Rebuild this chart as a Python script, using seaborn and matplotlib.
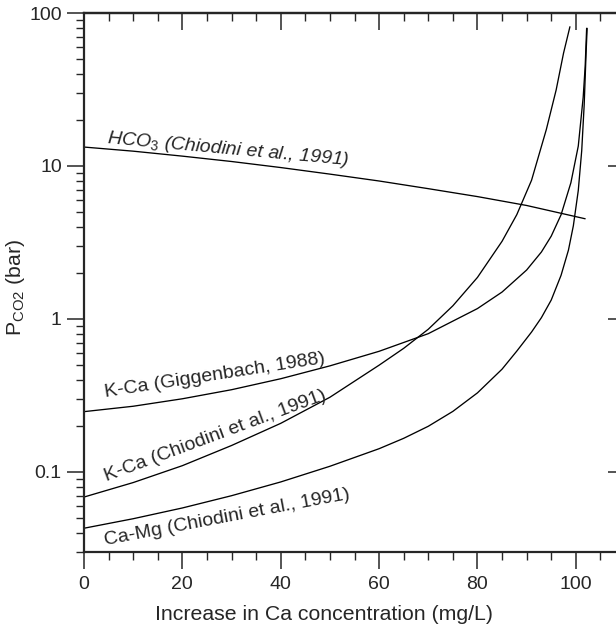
import pandas as pd
import matplotlib.pyplot as plt
import matplotlib.ticker as mticker
import seaborn as sns

# curves (x = increase in Ca, mg/L ; y = PCO2, bar)
hco3_x = [0, 10, 20, 30, 40, 50, 60, 70, 80, 90, 101.9]
hco3_y = [13.3, 12.5, 11.6, 10.7, 9.77, 8.85, 7.98, 7.11, 6.31, 5.52, 4.52]

kca_gigg_x = [0, 10, 20, 30, 40, 50, 60, 70, 80, 85, 90, 93, 95, 97, 99, 100.5, 101.5, 101.9, 102.2]
kca_gigg_y = [0.248, 0.269, 0.301, 0.345, 0.407, 0.494, 0.615, 0.802, 1.17, 1.50, 2.09,
              2.74, 3.48, 4.80, 7.78, 13.5, 28.2, 44.7, 79.4]

kca_chio_x = [0, 10, 20, 30, 40, 50, 60, 65, 70, 75, 80, 85, 88, 91, 94, 96, 97.5, 98.8]
kca_chio_y = [0.0686, 0.0853, 0.110, 0.149, 0.208, 0.308, 0.499, 0.643, 0.857, 1.22, 1.87,
              3.22, 4.81, 8.07, 17.3, 31.4, 54.6, 81.3]

camg_x = [0, 10, 20, 30, 40, 50, 60, 65, 70, 75, 80, 85, 88, 91, 93, 95, 97, 98.5, 99.5,
          100.5, 101.2, 101.7, 102.1, 102.3]
camg_y = [0.0429, 0.0495, 0.0582, 0.070, 0.0861, 0.109, 0.142, 0.166, 0.199, 0.249, 0.329,
          0.470, 0.617, 0.822, 1.02, 1.33, 1.93, 2.82, 4.07, 6.92, 12.6, 25.1, 56.2, 79.4]

curve_names = ['HCO3', 'K-Ca Giggenbach', 'K-Ca Chiodini', 'Ca-Mg']
curve_labels = ['HCO$_{\\mathit{3}}$ (Chiodini et al., 1991)',
                'K-Ca (Giggenbach, 1988)',
                'K-Ca (Chiodini et al., 1991)',
                'Ca-Mg (Chiodini et al., 1991)']
# label anchor (left baseline, data coords) and rotation
label_x = [4.5, 4.3, 4.6, 4.3]
label_y = [14.2, 0.307, 0.0869, 0.0333]
label_rot = [-5.2, 8.8, 20.4, 10.7]

yticks = [0.1, 1, 10, 100]
ytick_labels = ['0.1', '1', '10', '100']
xticks = [0, 20, 40, 60, 80, 100]

frames = []
for name, xs, ys in zip(curve_names,
                        [hco3_x, kca_gigg_x, kca_chio_x, camg_x],
                        [hco3_y, kca_gigg_y, kca_chio_y, camg_y]):
    frames.append(pd.DataFrame({'ca': xs, 'pco2': ys, 'curve': name}))
df = pd.concat(frames, ignore_index=True)

sns.set_style('ticks')
plt.rcParams['font.family'] = ['Liberation Sans', 'DejaVu Sans']
plt.rcParams['mathtext.fontset'] = 'custom'
plt.rcParams['mathtext.rm'] = 'Liberation Sans'
plt.rcParams['mathtext.it'] = 'Liberation Sans:italic'

fig = plt.figure(figsize=(6.16, 6.27), dpi=100)
ax = fig.add_axes([84 / 616, 1 - 552 / 627, 541 / 616, 539 / 627])

sns.lineplot(data=df, x='ca', y='pco2', units='curve', estimator=None,
             color='black', linewidth=0.95, sort=False, ax=ax)

ax.set_yscale('log')
ax.set_xlim(0, 110)
ax.set_ylim(0.03, 100)

ax.set_xticks(xticks)
ax.xaxis.set_minor_locator(mticker.MultipleLocator(5))
ax.set_yticks(yticks)
ax.set_yticklabels(ytick_labels)
ax.yaxis.set_minor_locator(mticker.LogLocator(base=10, subs=range(2, 10)))
ax.yaxis.set_minor_formatter(mticker.NullFormatter())

ax.tick_params(which='major', direction='out', length=12, width=1.1, labelsize=14, pad=4)
ax.tick_params(which='minor', direction='out', length=6, width=1.0)
ax.tick_params(axis='x', which='major', pad=5)

for sp in ax.spines.values():
    sp.set_linewidth(1.6)

# inward ticks on top and right
top = ax.secondary_xaxis('top')
top.set_xticks(xticks)
top.xaxis.set_minor_locator(mticker.MultipleLocator(5))
top.tick_params(which='major', direction='in', length=12, width=1.1, labeltop=False)
top.tick_params(which='minor', direction='in', length=6, width=1.0)
top.spines['top'].set_linewidth(1.6)

right = ax.secondary_yaxis('right')
right.set_yticks(yticks)
right.yaxis.set_minor_locator(mticker.LogLocator(base=10, subs=range(2, 10)))
right.yaxis.set_minor_formatter(mticker.NullFormatter())
right.tick_params(which='major', direction='in', length=12, width=1.1, labelright=False)
right.tick_params(which='minor', direction='in', length=6, width=1.0)

for txt, lx, ly, rot in zip(curve_labels, label_x, label_y, label_rot):
    ax.text(lx, ly, txt, rotation=rot, rotation_mode='anchor', ha='left', va='baseline',
            fontsize=14, style='italic' if txt.startswith('HCO') else 'normal')

ax.set_xlabel('Increase in Ca concentration (mg/L)', fontsize=15.3)
ax.set_ylabel('P$_{\\mathregular{CO2}}$ (bar)', fontsize=15.3)
ax.xaxis.set_label_coords(0.4427, -0.098)
ax.yaxis.set_label_coords(-0.105, 0.49)

fig.savefig('out.png', dpi=100)
plt.close(fig)
